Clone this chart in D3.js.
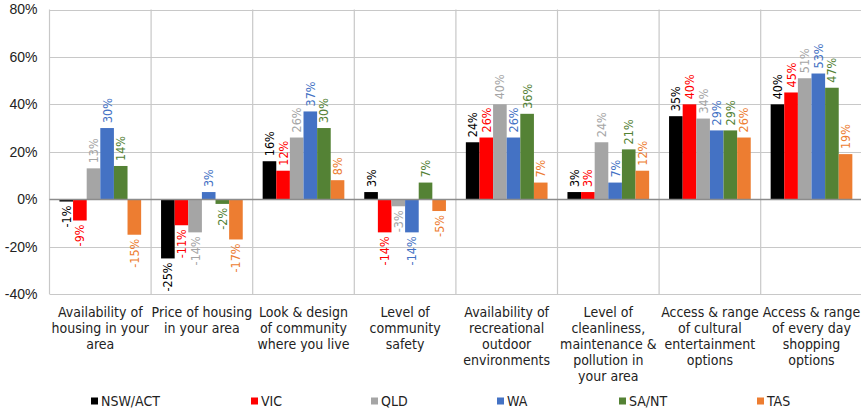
<!DOCTYPE html>
<html><head><meta charset="utf-8">
<script src="https://cdn.jsdelivr.net/npm/d3@7"></script>
<style>
body{margin:0;background:#fff;}
svg{display:block;font-family:"Liberation Sans Narrow","DejaVu Sans Condensed",sans-serif;}
</style></head>
<body><svg id="c" width="861" height="412"></svg>
<script>
const categories = [
  ["Availability of","housing in your","area"],
  ["Price of housing","in your area"],
  ["Look & design","of community","where you live"],
  ["Level of","community","safety"],
  ["Availability of","recreational","outdoor","environments"],
  ["Level of","cleanliness,","maintenance &","pollution in","your area"],
  ["Access & range","of cultural","entertainment","options"],
  ["Access & range","of every day","shopping","options"]
];
const seriesNames = ["NSW/ACT","VIC","QLD","WA","SA/NT","TAS"];
const seriesColors = ["#000000","#ff0000","#a5a5a5","#4472c4","#548235","#ed7d31"];
const nswAct = [-0.01,-0.25,0.16,0.03,0.24,0.03,0.35,0.40];
const vic    = [-0.09,-0.11,0.12,-0.14,0.26,0.03,0.40,0.45];
const qld    = [0.13,-0.14,0.26,-0.03,0.40,0.24,0.34,0.51];
const wa     = [0.30,0.03,0.37,-0.14,0.26,0.07,0.29,0.53];
const saNt   = [0.14,-0.02,0.30,0.07,0.36,0.21,0.29,0.47];
const tas    = [-0.15,-0.17,0.08,-0.05,0.07,0.12,0.26,0.19];
const seriesValues = [nswAct,vic,qld,wa,saNt,tas];
const yTicks = [-0.4,-0.2,0,0.2,0.4,0.6,0.8];

(function(){
const svg = d3.select("#c");
const pL = 49.5, pR = 862.3, pT = 9.5, pB = 294;
const x0 = d3.scaleBand().domain(d3.range(categories.length)).range([pL,pR]).padding(0);
const bw = x0.bandwidth();
const x1 = d3.scaleBand().domain(d3.range(seriesNames.length)).range([bw*0.098, bw*0.902]).padding(0);
const y = d3.scaleLinear().domain([-0.4,0.8]).range([pB,pT]);
const pct = d => d3.format(".0%")(d).replace("\u2212","-");

svg.append("g").selectAll("line").data(yTicks).join("line")
  .attr("x1",pL).attr("x2",pR)
  .attr("y1",d=>Math.round(y(d))+0.5).attr("y2",d=>Math.round(y(d))+0.5)
  .attr("stroke","#c8c8c8").attr("stroke-width",1.2);
svg.append("g").selectAll("line").data(d3.range(categories.length+1)).join("line")
  .attr("x1",d=>pL+d*bw).attr("x2",d=>pL+d*bw)
  .attr("y1",pT).attr("y2",pB)
  .attr("stroke","#c8c8c8").attr("stroke-width",1.2);

const yAxis = d3.axisLeft(y).tickValues(yTicks).tickFormat(pct).tickSize(0).tickPadding(12);
const ya = svg.append("g").attr("transform",`translate(${pL},0)`).call(yAxis);
ya.select(".domain").remove();
ya.selectAll("text").attr("font-size",14).attr("fill","#222").attr("font-family","inherit");

const groups = svg.append("g").selectAll("g").data(categories).join("g")
  .attr("transform",(d,i)=>`translate(${x0(i)},0)`);
groups.each(function(c,ci){
  const g = d3.select(this);
  const data = seriesValues.map((s,si)=>({si,v:s[ci]}));
  g.selectAll("rect").data(data).join("rect")
    .attr("x",d=>x1(d.si)).attr("width",x1.bandwidth())
    .attr("y",d=>y(Math.max(0,d.v))).attr("height",d=>Math.abs(y(d.v)-y(0)))
    .attr("fill",d=>seriesColors[d.si]);
  g.selectAll("text").data(data).join("text")
    .attr("transform",d=>{
      const cx = x1(d.si)+x1.bandwidth()/2;
      const yy = d.v>=0 ? y(d.v)-5 : y(d.v)+4;
      return `translate(${cx},${yy}) rotate(-90)`;
    })
    .attr("text-anchor",d=>d.v>=0?"start":"end")
    .attr("dominant-baseline","central")
    .attr("font-size",12.5)
    .attr("fill",d=>seriesColors[d.si])
    .text(d=>pct(d.v));
});

svg.append("line").attr("x1",pL).attr("x2",pR)
  .attr("y1",Math.round(y(0))+0.5).attr("y2",Math.round(y(0))+0.5)
  .attr("stroke","#8c8c8c").attr("stroke-width",1.3);

const cl = svg.append("g").selectAll("text").data(categories).join("text")
  .attr("x",(d,i)=>x0(i)+bw/2).attr("y",317)
  .attr("text-anchor","middle").attr("font-size",14).attr("fill","#222");
cl.selectAll("tspan").data(d=>d).join("tspan")
  .attr("x",function(){return this.parentNode.getAttribute("x");})
  .attr("dy",(d,i)=>i===0?0:16).text(d=>d);

const legendX = [91,251,371,497,619,757];
const lg = svg.append("g").selectAll("g").data(seriesNames).join("g")
  .attr("transform",(d,i)=>`translate(${legendX[i]},401)`);
lg.append("rect").attr("x",0).attr("y",-3.5).attr("width",7).attr("height",7).attr("fill",(d,i)=>seriesColors[i]);
lg.append("text").attr("x",10).attr("y",0).attr("dominant-baseline","central")
  .attr("font-size",14).attr("fill","#222").text(d=>d);
})();
</script></body></html>
